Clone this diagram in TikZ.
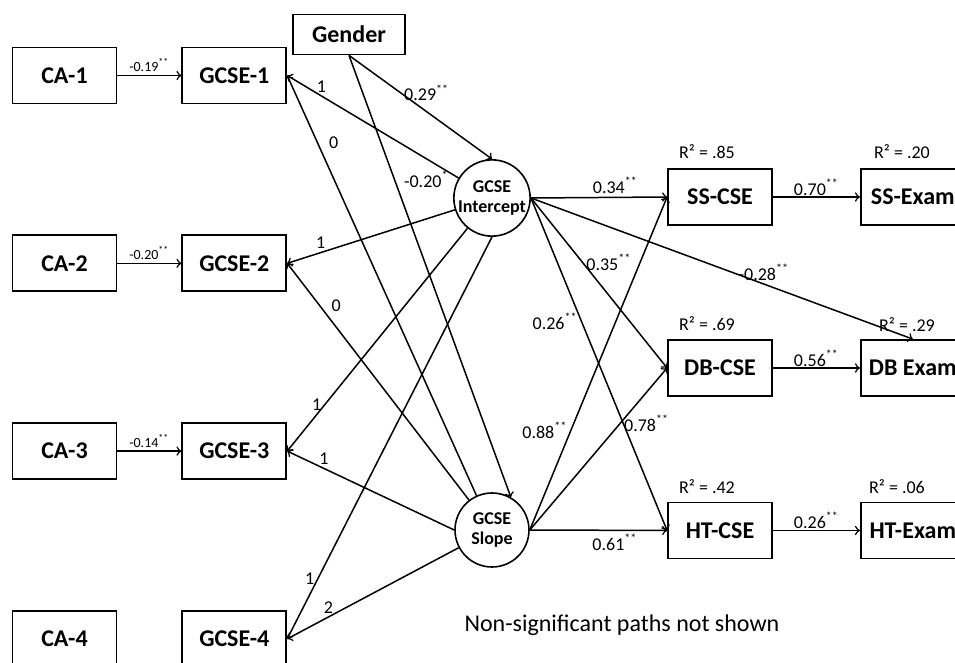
\documentclass[tikz,border=0pt]{standalone}
\usepackage{fontspec}
\setmainfont{Carlito}
\usetikzlibrary{positioning}

\tikzset{
    varbox/.style = {draw, line width=0.9pt, minimum width=52pt, minimum height=28pt,
                     inner sep=0pt, font=\fontsize{12}{14}\selectfont\bfseries},
    latent/.style = {draw, circle, line width=0.8pt, minimum size=37pt, inner sep=0pt,
                     align=center, font=\fontsize{9}{10}\selectfont\bfseries},
    conn/.style   = {->, line width=0.75pt},
    coef/.style   = {font=\fontsize{9}{10}\selectfont, inner sep=1.5pt},
    smallcoef/.style = {font=\fontsize{7}{8}\selectfont, inner sep=1.5pt},
    rsq/.style    = {font=\fontsize{9}{10}\selectfont},
}

\begin{document}
\begin{tikzpicture}[x=0.5pt, y=-0.5pt]
            \useasboundingbox (0,0) rectangle (955,663);
            % measured variables
            \node[varbox] (ca1) at (64.5,75.5) {CA-1};
            \node[varbox, below=65pt of ca1] (ca2) {CA-2};
            \node[varbox, below=65pt of ca2] (ca3) {CA-3};
            \node[varbox, below=65pt of ca3] (ca4) {CA-4};
            \node[varbox, right=32pt of ca1] (g1) {GCSE-1};
            \node[varbox, right=32pt of ca2] (g2) {GCSE-2};
            \node[varbox, right=32pt of ca3] (g3) {GCSE-3};
            \node[varbox, right=32pt of ca4] (g4) {GCSE-4};
            \node[varbox, minimum width=56pt, minimum height=20pt] (gender) at (349,34.5) {Gender};
            % growth factors
            \node[latent] (int) at (492,198) {GCSE\\Intercept};
            \node[latent] (slope) at (492,530) {GCSE\\Slope};
            % outcomes
            \node[varbox] (ss) at (720,197) {SS-CSE};
            \node[varbox] (db) at (720,368) {DB-CSE};
            \node[varbox] (ht) at (720,530.5) {HT-CSE};
            \node[varbox, right=43.5pt of ss] (ssx) {SS-Exam};
            \node[varbox, right=43.5pt of db] (dbx) {DB Exam};
            \node[varbox, right=43.5pt of ht] (htx) {HT-Exam};
            \node[rsq] (r1) at (707,152) {R² = .85};
            \node[rsq] (r2) at (902,152) {R² = .20};
            \node[rsq] (r3) at (707,324) {R² = .69};
            \node[rsq] (r4) at (907,325) {R² = .29};
            \node[rsq] (r5) at (707,487) {R² = .42};
            \node[rsq] (r6) at (897,487) {R² = .06};
            \node[font=\fontsize{12}{14}\selectfont] (note) at (622,625) {Non-significant paths not shown};

            \draw[conn] (ca1) -- node[smallcoef, above] {-0.19\textsuperscript{**}} (g1);
            \draw[conn] (ca2) -- node[smallcoef, above] {-0.20\textsuperscript{**}} (g2);
            \draw[conn] (ca3) -- node[smallcoef, above] {-0.14\textsuperscript{**}} (g3);
            \draw[conn] (gender.south) -- node[coef, pos=0.36, right] {0.29\textsuperscript{**}} (int.north);
            \draw[conn] (gender.south) -- node[coef, pos=0.28, right=3pt] {-0.20\textsuperscript{*}} (slope.60);
            % loadings
            \draw[conn] (int) -- node[coef, pos=0.8, above] {1} (g1.east);
            \draw[conn] (slope) -- node[coef, pos=0.84, right=4pt] {0} (g1.east);
            \draw[conn] (int) -- node[coef, pos=0.8, above] {1} (g2.east);
            \draw[conn] (slope) -- node[coef, pos=0.82, right=4pt] {0} (g2.east);
            \draw[conn] (int) -- node[coef, pos=0.79, left] {1} (g3.east);
            \draw[conn] (slope.west) -- node[coef, pos=0.78, above] {1} (g3.east);
            \draw[conn] (int.south) -- node[coef, pos=0.85, left] {1} (g4.east);
            \draw[conn] (slope) -- node[coef, pos=0.76, above] {2} (g4.east);
            % structural paths
            \draw[conn] (int.east) -- node[coef, pos=0.62, above] {0.34\textsuperscript{**}} (ss.west);
            \draw[conn] (int.east) -- node[coef, pos=0.38, right] {0.35\textsuperscript{**}} (db.west);
            \draw[conn] (int.east) -- node[coef, pos=0.37, left] {0.26\textsuperscript{**}} (ht.west);
            \draw[conn] (int.east) -- node[coef, pos=0.61, above] {-0.28\textsuperscript{**}} (dbx.north);
            \draw[conn] (slope.east) -- node[coef, pos=0.3, left] {0.88\textsuperscript{**}} (ss.west);
            \draw[conn] (slope.east) -- node[coef, pos=0.66, right] {0.78\textsuperscript{**}} (db.west);
            \draw[conn] (slope.east) -- node[coef, pos=0.62, below] {0.61\textsuperscript{**}} (ht.west);
            \draw[conn] (ss) -- node[coef, above, inner sep=0.5pt] {0.70\textsuperscript{**}} (ssx);
            \draw[conn] (db) -- node[coef, above, inner sep=0.5pt] {0.56\textsuperscript{**}} (dbx);
            \draw[conn] (ht) -- node[coef, above, inner sep=0.5pt] {0.26\textsuperscript{**}} (htx);
\end{tikzpicture}
\end{document}
